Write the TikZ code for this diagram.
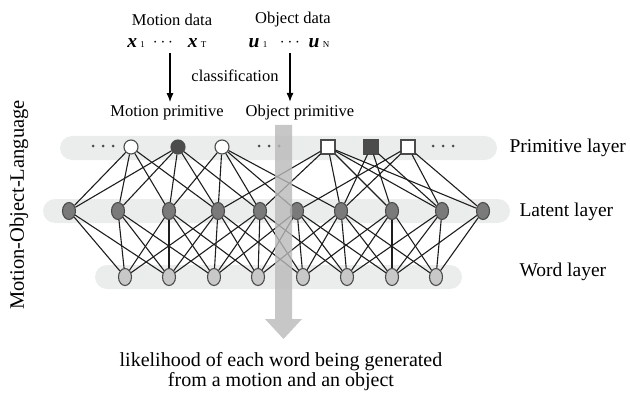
\documentclass[tikz,border=0pt]{standalone}
\usepackage{fontspec}
\setmainfont{Liberation Serif}
\usetikzlibrary{arrows.meta,shapes.geometric}

\definecolor{bandgray}{RGB}{235,237,237}
\definecolor{latentgray}{RGB}{122,122,122}
\definecolor{wordgray}{RGB}{200,200,200}
\definecolor{rimgray}{RGB}{75,75,75}
\definecolor{edgegray}{RGB}{30,30,30}
\definecolor{bargray}{RGB}{185,185,185}

\newcommand{\topfont}{\fontsize{16.5}{19}\selectfont}
\newcommand{\bigfont}{\fontsize{19.5}{21}\selectfont}

\begin{document}
\begin{tikzpicture}
    [
      x=1pt, y=-1pt,
      band/.style={fill=bandgray, rounded corners=12pt},
      prim/.style={circle, draw=rimgray, line width=1.1pt, fill=white, minimum size=14pt, inner sep=0pt},
      primon/.style={prim, fill=black!70},
      obj/.style={rectangle, draw=rimgray, line width=1.1pt, fill=white, minimum size=14pt, inner sep=0pt},
      objon/.style={obj, fill=black!70},
      latent/.style={ellipse, draw=rimgray, line width=1.1pt, fill=latentgray, minimum width=13pt, minimum height=17pt, inner sep=0pt},
      word/.style={latent, fill=wordgray},
      edge/.style={edgegray, line width=1.1pt},
      dot/.style={circle, fill=rimgray, minimum size=3pt, inner sep=0pt},
      every node/.style={font=\topfont},
    ]
    \useasboundingbox (0,0) rectangle (630,396);

    % bands
    \fill [band] (60,136) rectangle (497,160);
    \fill [band] (43,199) rectangle (510,223);
    \fill [band] (95,265) rectangle (462,289);

    % primitive layer
    \node [prim]   (p1) at (131,147) {};
    \node [primon] (p2) at (178,147) {};
    \node [prim]   (p3) at (222,147) {};
    \node [obj]    (q1) at (328,147) {};
    \node [objon]  (q2) at (371,147) {};
    \node [obj]    (q3) at (408,147) {};
    \foreach \x [count=\k] in {93,103,113,259,269,279,433,443,453} {
      \node [dot] (d\k) at (\x,146) {};
    }

    % latent layer
    \foreach \x [count=\i] in {69,118,169,218,260,297,341,392,442,483} {
      \node [latent] (l\i) at (\x,211) {};
    }

    % word layer
    \foreach \x [count=\i] in {125,169,214,258,303,347,392,436} {
      \node [word] (w\i) at (\x,277) {};
    }

    % primitive -> latent
    \foreach \a/\bs in {p1/{1,2,3,4},p2/{1,2,3,4,5},p3/{3,4,5,6,7},
                        q1/{4,5,7,8,9,10},q2/{7,8,9},q3/{6,7,9,10}} {
      \foreach \b in \bs {
        \draw [edge] (\a) -- (l\b);
      }
    }

    % latent -> word
    \foreach \a/\bs in {1/{1,2},2/{1,2,3},3/{1,2,3,4},4/{1,2,3,4,5},5/{2,3,4,5,6},
                        6/{3,4,5,6,7},7/{4,5,6,7,8},8/{5,6,7,8},9/{6,7,8},10/{7,8}} {
      \foreach \b in \bs {
        \draw [edge] (l\a) -- (w\b);
      }
    }

    % big arrow
    \fill [bargray, opacity=.8] (275,125) -- (292,125) -- (292,319) -- (302,319)
                                -- (283.5,339) -- (265,319) -- (275,319) -- cycle;

    % inputs
    \node (mdata) at (172,20) {Motion data};
    \node (odata) at (293,20) {Object data};
    \node (x1) at (136,43) {\bigfont\textbf{\textit{x}}\,{\fontsize{9}{9}\selectfont 1}};
    \node (xd) at (163,43) {$\cdots$};
    \node (xT) at (197,43) {\bigfont\textbf{\textit{x}}\,{\fontsize{9}{9}\selectfont T}};
    \node (u1) at (258,43) {\bigfont\textbf{\textit{u}}\,{\fontsize{9}{9}\selectfont 1}};
    \node (ud) at (290,43) {$\cdots$};
    \node (uN) at (319,43) {\bigfont\textbf{\textit{u}}\,{\fontsize{9}{9}\selectfont N}};
    \node (cls) at (235,76) {classification};
    \node (mprim) at (167,113) {Motion primitive};
    \node (oprim) at (300,113) {Object primitive};
    \coordinate (ma) at (170,53);
    \coordinate (oa) at (290,53);
    \draw [-{Latex[length=9pt,width=7pt]}, line width=1.4pt] (ma) -- (ma |- mprim.north);
    \draw [-{Latex[length=9pt,width=7pt]}, line width=1.4pt] (oa) -- (oa |- oprim.north);

    % labels
    \node [anchor=west, font=\bigfont] (lprim) at (506,148) {Primitive layer};
    \node [anchor=west, font=\bigfont] (llat)  at (516,212) {Latent layer};
    \node [anchor=west, font=\bigfont] (lword) at (516,272) {Word layer};
    \node [rotate=90, font=\fontsize{20.5}{22}\selectfont] (mol) at (19,205) {Motion-Object-Language};
    \node [align=center, font=\fontsize{20}{20}\selectfont] (out) at (281,372)
      {likelihood of each word being generated\\from a motion and an object};
\end{tikzpicture}
\end{document}
